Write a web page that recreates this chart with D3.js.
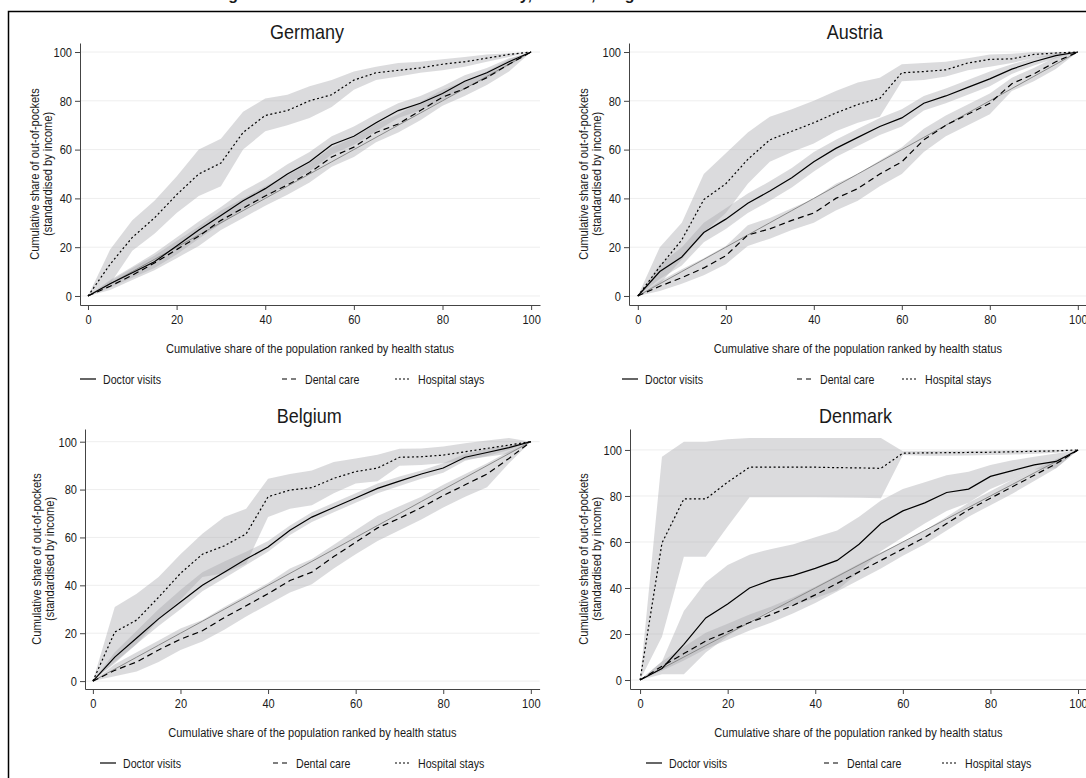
<!DOCTYPE html>
<html>
<head>
<meta charset="utf-8">
<script src="https://cdn.jsdelivr.net/npm/d3@7/dist/d3.min.js"></script>
<style>
    body { margin: 0; background: #fff; }
    text { font-family: "Liberation Sans", Arial, sans-serif; fill: #1a1a1a; }
    .title { font-weight: bold; }
</style>
</head>
<body>
<div class="chart"></div>
<script>
// cumulative share of the population (x), every 5 points
var shares = [0, 5, 10, 15, 20, 25, 30, 35, 40, 45, 50, 55, 60, 65, 70, 75, 80, 85, 90, 95, 100];

// Germany
var deDoc    = [0, 5, 9.5, 14, 20.5, 27, 33, 39, 44, 50, 55, 62, 65.5, 71, 76, 79, 83, 88, 91.5, 96, 100];
var deDocHi  = [0, 6.5, 12, 17.5, 24, 30.5, 36.5, 43, 48, 54, 59, 65.5, 69.5, 74.5, 79, 82, 86, 90.5, 93.5, 97.5, 100];
var deDocLo  = [0, 3.5, 7.5, 11.5, 17, 23.5, 29.5, 35.5, 40.5, 46, 51, 58, 62, 67.5, 73, 76, 80, 85, 89, 94.5, 100];
var deDent   = [0, 4, 8.5, 13.5, 19, 24.5, 31, 36, 41, 45.5, 50.5, 57, 61, 67, 70.5, 76, 81.5, 85, 89.5, 95, 100];
var deDentHi = [0, 6, 11.5, 16.5, 22.5, 28.5, 35, 40, 45, 49.5, 54.5, 61, 65, 70.5, 74.5, 79.5, 84.5, 88, 92, 97, 100];
var deDentLo = [0, 2.5, 6.5, 10.5, 15.5, 20.5, 27, 32, 37, 41.5, 46.5, 53, 57, 63, 67, 72, 78, 82, 86.5, 92, 100];
var deHosp   = [0, 13, 24, 32, 41.5, 50, 54.5, 67, 74, 76, 80, 82.5, 88.5, 91.5, 92.5, 93.5, 95, 96, 97.5, 99, 100];
var deHospHi = [0, 19, 31, 39, 49, 60, 64.5, 75.5, 81, 82.5, 86, 88.5, 92, 94, 95.5, 96, 97, 98, 99, 99.5, 100];
var deHospLo = [0, 5, 18.5, 25.5, 34, 41, 45, 60, 67.5, 70, 73, 77.5, 84.5, 88.5, 90, 91.5, 92.5, 94, 96, 98, 100];

// Austria
var atDoc    = [0, 10, 16, 26, 31.5, 38, 43, 48.5, 55, 60.5, 65, 69.5, 73, 79, 82, 85.5, 89, 93, 96, 98.5, 100];
var atDocHi  = [0, 13, 20, 30, 36, 42, 47, 52.5, 59, 64, 68.5, 73, 76.5, 82, 85, 88.5, 92, 95, 97.5, 99.5, 100];
var atDocLo  = [0, 7, 12.5, 22, 27.5, 34, 39, 44.5, 51, 57, 61.5, 66, 69.5, 76, 79, 82.5, 86, 91, 94.5, 97.5, 100];
var atDent   = [0, 4, 7.5, 11.5, 16.5, 25, 27.5, 31, 34, 40, 44, 50, 55, 64, 70, 74.5, 79, 87, 91, 96, 100];
var atDentHi = [0, 6, 11, 15.5, 20.5, 29, 32, 36, 40, 46, 50, 55.5, 61, 68.5, 74, 78.5, 83, 89.5, 93.5, 98, 100];
var atDentLo = [0, 2, 5, 8.5, 13, 20.5, 23.5, 27, 30, 35, 39, 45, 50, 59, 65.5, 70, 74.5, 84, 88, 93, 100];
var atHosp   = [0, 12, 23, 39.5, 46, 56, 64, 67.5, 71, 75, 78.5, 81, 91.5, 92, 92.7, 95.5, 97, 97.2, 99, 99.6, 100];
var atHospHi = [0, 20, 30, 50, 58.5, 67, 73.5, 76.5, 80, 84, 87.5, 89.5, 95, 95.5, 96, 97.5, 99, 99.3, 100, 100, 100];
var atHospLo = [0, 5, 15, 26, 34, 46, 55, 59, 62.5, 67.5, 71, 73.5, 88, 88.5, 90, 92.5, 94, 95.5, 97.5, 98.5, 100];

// Belgium
var beDoc    = [0, 10, 18, 26, 33, 40, 45.5, 51, 56, 63, 68.5, 72.5, 76.5, 80.5, 83.5, 86.5, 89, 93.5, 95.5, 97.5, 100];
var beDocHi  = [0, 12, 21, 30, 38, 45.5, 50, 54, 58.5, 65, 70.5, 74.5, 78.5, 82.5, 85.5, 88, 91, 95, 97, 98.5, 100];
var beDocLo  = [0, 8, 15.5, 23, 30, 37.5, 43, 48.5, 54, 61, 66.5, 70.5, 74.5, 78.5, 81.5, 84.5, 87, 92, 94, 96.5, 100];
var beDent   = [0, 4.5, 8, 13, 17.5, 21, 26.5, 31.5, 36.5, 42, 45.5, 52, 58, 64, 68, 72.5, 77.5, 82, 86.5, 93, 100];
var beDentHi = [0, 7, 12, 17, 22, 25.5, 31, 36, 41, 47, 51, 57, 63, 69, 73, 77, 82, 86.5, 91, 96, 100];
var beDentLo = [0, 2, 4, 8, 13, 16.5, 21.5, 27, 32, 37, 40.5, 47, 53, 58.5, 63, 67.5, 72.5, 77, 81, 91, 100];
var beHosp   = [0, 20.5, 25.5, 35, 45, 53, 56.5, 61.5, 77, 79.8, 80.8, 84.7, 87.5, 89, 93.5, 93.7, 94.4, 95.8, 97.2, 98.6, 100];
var beHospHi = [0, 31, 36.5, 43.5, 53, 61.5, 68.5, 72, 84.5, 86.5, 88, 91.5, 93, 94.5, 97, 97.2, 98, 99.3, 100.5, 101.5, 100];
var beHospLo = [0, 7.5, 15.5, 25.5, 34, 43.5, 45, 49, 68.5, 72, 73.5, 78.5, 82.5, 83.5, 90, 90.3, 91, 92.5, 93.7, 95, 100];

// Denmark
var dkDoc    = [0, 5, 15.5, 27, 33, 40, 43.5, 45.5, 48.5, 52, 59, 68, 73.5, 77, 81.5, 83, 88.5, 91, 93.5, 95, 100];
var dkDocHi  = [0, 8, 30, 42.5, 50, 54.5, 57, 59, 62, 65, 71, 78, 83, 86, 89, 90.5, 93.5, 95.5, 97, 98.5, 100];
var dkDocLo  = [0, 2.5, 2.5, 12, 19, 25.5, 30.5, 32.5, 35.5, 39, 47, 56, 62, 68, 73.5, 77, 83, 87, 91.5, 92, 100];
var dkDent   = [0, 6, 11.5, 17, 21, 25, 28.5, 32.5, 37, 42, 47, 52, 57, 62, 68, 74, 79, 84, 89, 94, 100];
var dkDentHi = [0, 8, 14.5, 20.5, 24.5, 28.5, 32, 36, 40.5, 45.5, 50.5, 55.5, 60, 65, 71, 77, 82, 87, 91.5, 96, 100];
var dkDentLo = [0, 4, 8.5, 13.5, 17.5, 21.5, 25, 29, 33.5, 38.5, 43.5, 48.5, 54, 59, 65, 71, 76, 81, 86.5, 92, 100];
var dkHosp   = [0, 59.5, 78.7, 78.7, 86, 92.5, 92.5, 92.5, 92.5, 92.3, 92.2, 92, 98.6, 98.7, 98.8, 98.9, 99, 99.2, 99.4, 99.6, 100];
var dkHospHi = [0, 97, 103.6, 103.6, 104.6, 105.2, 105.2, 105.2, 105.2, 105.2, 105.2, 105.2, 99.4, 99.5, 99.6, 99.7, 99.8, 99.9, 100, 100, 100];
var dkHospLo = [0, 18.8, 53.6, 53.6, 66.7, 79.4, 79.4, 79.4, 79.4, 79.3, 79.2, 79, 97.8, 97.5, 97.5, 97.6, 97.8, 98, 98.3, 98.8, 100];

var xTicks = [0, 20, 40, 60, 80, 100];
var yTicks = [0, 20, 40, 60, 80, 100];
var seriesNames = ["Doctor visits", "Dental care", "Hospital stays"];
var yTitle = ["Cumulative share of out-of-pockets", "(standardised by income)"];
var xTitle = "Cumulative share of the population ranked by health status";
var figTitle = "Figure 3. Concentration curves: Germany, Austria, Belgium and Denmark";

// dash styles: solid, long dash, short dash
var dashes = [null, "6,4", "2,2.5"];
var legendDashes = [null, "5,4", "2,2"];

// no narrow face is installed, so squeeze Liberation Sans like Arial Narrow
var squeeze = 0.82;

var panels = [
    { name: "Germany", lines: [deDoc, deDent, deHosp], lo: [deDocLo, deDentLo, deHospLo], hi: [deDocHi, deDentHi, deHospHi],
      xDomain: [-1.8, 102], xRange: [80, 540], yDomain: [-3.7, 103.7], yRange: [305, 43],
      titleY: 39, yTitleX: [35, 48], xTitleY: 353, legendY: 379, legendX: [80, 282, 395] },
    { name: "Austria", lines: [atDoc, atDent, atHosp], lo: [atDocLo, atDentLo, atHospLo], hi: [atDocHi, atDentHi, atHospHi],
      xDomain: [-2, 102], xRange: [629, 1086.6], yDomain: [-3.7, 103.7], yRange: [305, 43],
      titleY: 39, yTitleX: [584, 597], xTitleY: 353, legendY: 379, legendX: [622, 797, 902] },
    { name: "Belgium", lines: [beDoc, beDent, beHosp], lo: [beDocLo, beDentLo, beHospLo], hi: [beDocHi, beDentHi, beHospHi],
      xDomain: [-1.8, 102], xRange: [85, 539.6], yDomain: [-3.3, 105.3], yRange: [689, 429],
      titleY: 423, yTitleX: [37, 50], xTitleY: 737, legendY: 763, legendX: [100, 273, 395] },
    { name: "Denmark", lines: [dkDoc, dkDent, dkHosp], lo: [dkDocLo, dkDentLo, dkHospLo], hi: [dkDocHi, dkDentHi, dkHospHi],
      xDomain: [-2.3, 102], xRange: [630, 1086.8], yDomain: [-3.9, 109.1], yRange: [689, 429],
      titleY: 423, yTitleX: [584, 597], xTitleY: 737, legendY: 763, legendX: [646, 824, 942] }
];

var svg = d3.select(".chart").append("svg")
    .attr("width", 1086)
    .attr("height", 778);

// put a squeezed text at x,y (optionally rotated)
var addText = (parent, x, y, str, size, anchor, angle, sx) => {
    var t = parent.append("g")
        .attr("transform", "translate(" + x + "," + y + ") rotate(" + (angle || 0) + ") scale(" + (sx || squeeze) + ",1)");
    t.append("text")
        .attr("text-anchor", anchor || "start")
        .attr("font-size", size)
        .text(str);
    return t;
}

// outer frame (only top and left edge fall inside the window)
svg.append("rect")
    .attr("x", 8.5).attr("y", 11.5)
    .attr("width", 1200).attr("height", 900)
    .attr("fill", "none")
    .attr("stroke", "#000")
    .attr("stroke-width", 1.5);

// figure title, cut off by the top of the image
svg.append("text")
    .attr("class", "title")
    .attr("x", 214).attr("y", -0.5)
    .attr("font-size", 16)
    .text(figTitle);

panels.forEach(function (p) {
    var x = d3.scaleLinear().domain(p.xDomain).range(p.xRange);
    var y = d3.scaleLinear().domain(p.yDomain).range(p.yRange);
    var g = svg.append("g");

    // faint grid
    g.selectAll(".grid")
        .data(yTicks)
        .enter().append("line")
        .attr("x1", p.xRange[0]).attr("x2", p.xRange[1])
        .attr("y1", function (d) { return y(d); })
        .attr("y2", function (d) { return y(d); })
        .attr("stroke", "#eeeeee")
        .attr("stroke-width", 1);

    // confidence bands
    p.lines.forEach(function (s, i) {
        var area = d3.area()
            .x(function (d, j) { return x(shares[j]); })
            .y0(function (d, j) { return y(p.lo[i][j]); })
            .y1(function (d, j) { return y(p.hi[i][j]); });
        g.append("path")
            .attr("d", area(shares))
            .attr("fill", "#a9a9ae")
            .attr("fill-opacity", 0.42);
    });

    // line of equality
    var line = d3.line()
        .x(function (d) { return x(d[0]); })
        .y(function (d) { return y(d[1]); });
    g.append("path")
        .attr("d", line(shares.map(function (d) { return [d, d]; })))
        .attr("fill", "none")
        .attr("stroke", "#8a8a8a")
        .attr("stroke-width", 1);

    // concentration curves
    p.lines.forEach(function (s, i) {
        g.append("path")
            .attr("d", line(s.map(function (d, j) { return [shares[j], d]; })))
            .attr("fill", "none")
            .attr("stroke", "#000")
            .attr("stroke-width", 1.2)
            .attr("stroke-dasharray", dashes[i]);
    });

    // axes
    var ax = g.append("g")
        .attr("transform", "translate(0," + p.yRange[0] + ")")
        .call(d3.axisBottom(x).tickValues(xTicks).tickSize(5).tickSizeOuter(0).tickPadding(4));
    var ay = g.append("g")
        .attr("transform", "translate(" + p.xRange[0] + ",0)")
        .call(d3.axisLeft(y).tickValues(yTicks).tickSize(5).tickSizeOuter(0).tickPadding(3));
    [ax, ay].forEach(function (a) {
        a.selectAll("path, line").attr("stroke", "#444");
        a.selectAll("text")
            .attr("font-size", 13.5)
            .attr("fill", "#1a1a1a")
            .style("font-family", "\"Liberation Sans\", Arial, sans-serif")
            .attr("transform", "scale(" + squeeze + ",1)");
    });
    ay.selectAll("text").attr("x", -8 / squeeze);

    var cx = (p.xRange[0] + p.xRange[1]) / 2;
    var cy = (p.yRange[0] + p.yRange[1]) / 2;

    // panel title
    addText(g, cx - 3, p.titleY, p.name, 20, "middle", 0, 0.9);

    // y title, two lines
    yTitle.forEach(function (t, k) {
        addText(g, p.yTitleX[k] + 4, cy, t, 13.5, "middle", -90);
    });

    // x title
    addText(g, cx, p.xTitleY, xTitle, 13.5, "middle");

    // legend
    seriesNames.forEach(function (n, i) {
        var lx = p.legendX[i];
        g.append("line")
            .attr("x1", lx).attr("x2", lx + 16)
            .attr("y1", p.legendY).attr("y2", p.legendY)
            .attr("stroke", "#000")
            .attr("stroke-width", 1.2)
            .attr("stroke-dasharray", legendDashes[i]);
        addText(g, lx + 23, p.legendY + 4.5, n, 13, "start");
    });
});
</script>
</body>
</html>
